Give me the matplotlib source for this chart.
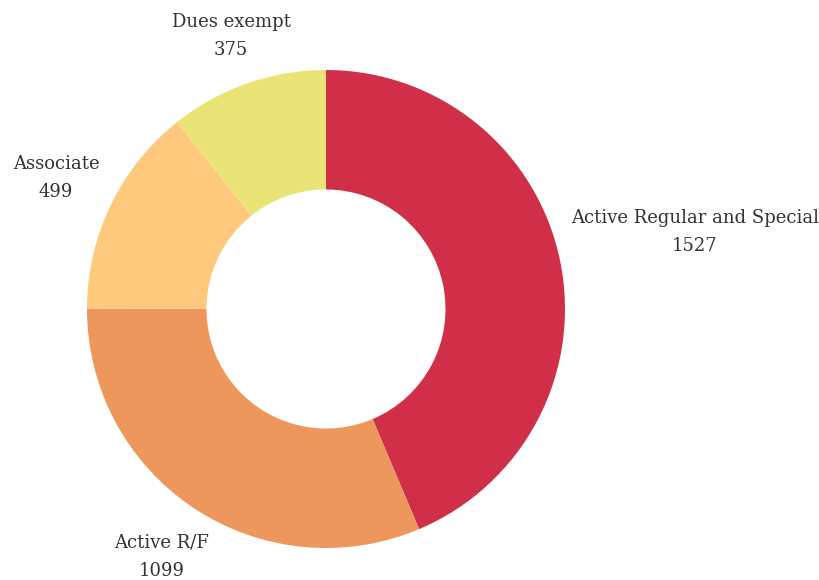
import numpy as np
import matplotlib.pyplot as plt

labels = ['Active Regular and Special', 'Active R/F', 'Associate', 'Dues exempt']
values = [1527, 1099, 499, 375]
colors = ['#d12e48', '#ee975c', '#fec97c', '#eae476']

# label block centres in pixels (x, y from top)
label_px = [(695, 232), (162, 557), (56, 178), (231, 36)]

W, H = 820, 580
cx, cy, R = 326, 309, 239

fig = plt.figure(figsize=(W / 100, H / 100), dpi=100)
ax = fig.add_axes([0, 0, 1, 1])

ax.pie(values, colors=colors, startangle=90, counterclock=False, radius=1,
       wedgeprops=dict(width=0.5, edgecolor='white', linewidth=0))

# pie resets the limits, so set them afterwards
ax.set_aspect('auto')
ax.set_xlim(-cx / R, (W - cx) / R)
ax.set_ylim(-(H - cy) / R, cy / R)
ax.axis('off')

for lab, val, (px, py) in zip(labels, values, label_px):
    ax.text((px - cx) / R, (cy - py) / R, f"{lab}\n{val}", ha='center', va='center',
            fontsize=13, family='DejaVu Serif', color='#333333', linespacing=1.75)

fig.savefig('out.png', dpi=100)
